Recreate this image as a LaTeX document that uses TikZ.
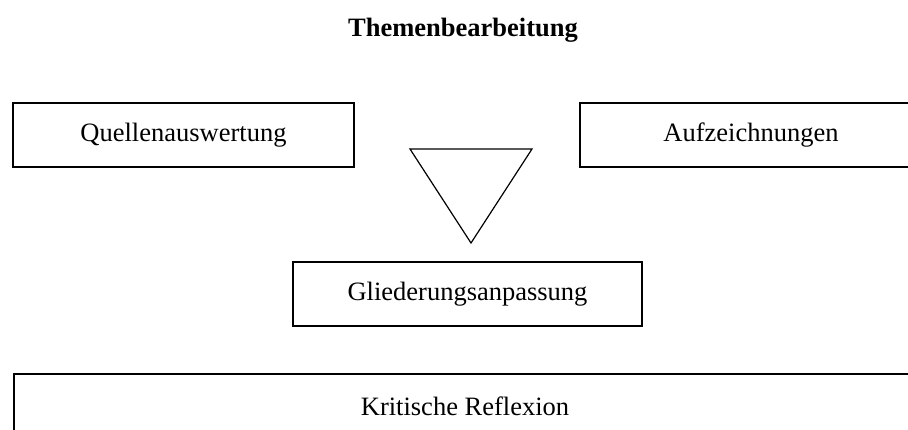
\documentclass[tikz,border=0pt]{standalone}
\usepackage{fontspec}
\setmainfont{Liberation Serif}

\begin{document}
\begin{tikzpicture}[x=1pt, y=-1pt]
    \tikzstyle{every node}=[font={\fontsize{26.5}{30}\selectfont}]
    \tikzstyle{block}=[draw, line width=2pt, rectangle, inner sep=0pt, minimum height=64pt]
    \useasboundingbox (0,0) rectangle (908,430);
    \clip (0,0) rectangle (908,430);
    \node (title) at (463,30) {\bfseries Themenbearbeitung};
    \node[block, minimum width=341pt] (quellen) at (183.5,135) {Quellenauswertung};
    \node[block, minimum width=342pt] (aufz) at (751,135) {Aufzeichnungen};
    \draw[line width=1.2pt, line join=miter] (410,149) -- (532,149) -- (471,243) -- cycle;
    \node[block, minimum width=349pt] (gliederung) at (467.5,294) {Gliederungsanpassung};
    \node[block, minimum width=902pt] (reflexion) at (465,406) {Kritische Reflexion};
\end{tikzpicture}
\end{document}
